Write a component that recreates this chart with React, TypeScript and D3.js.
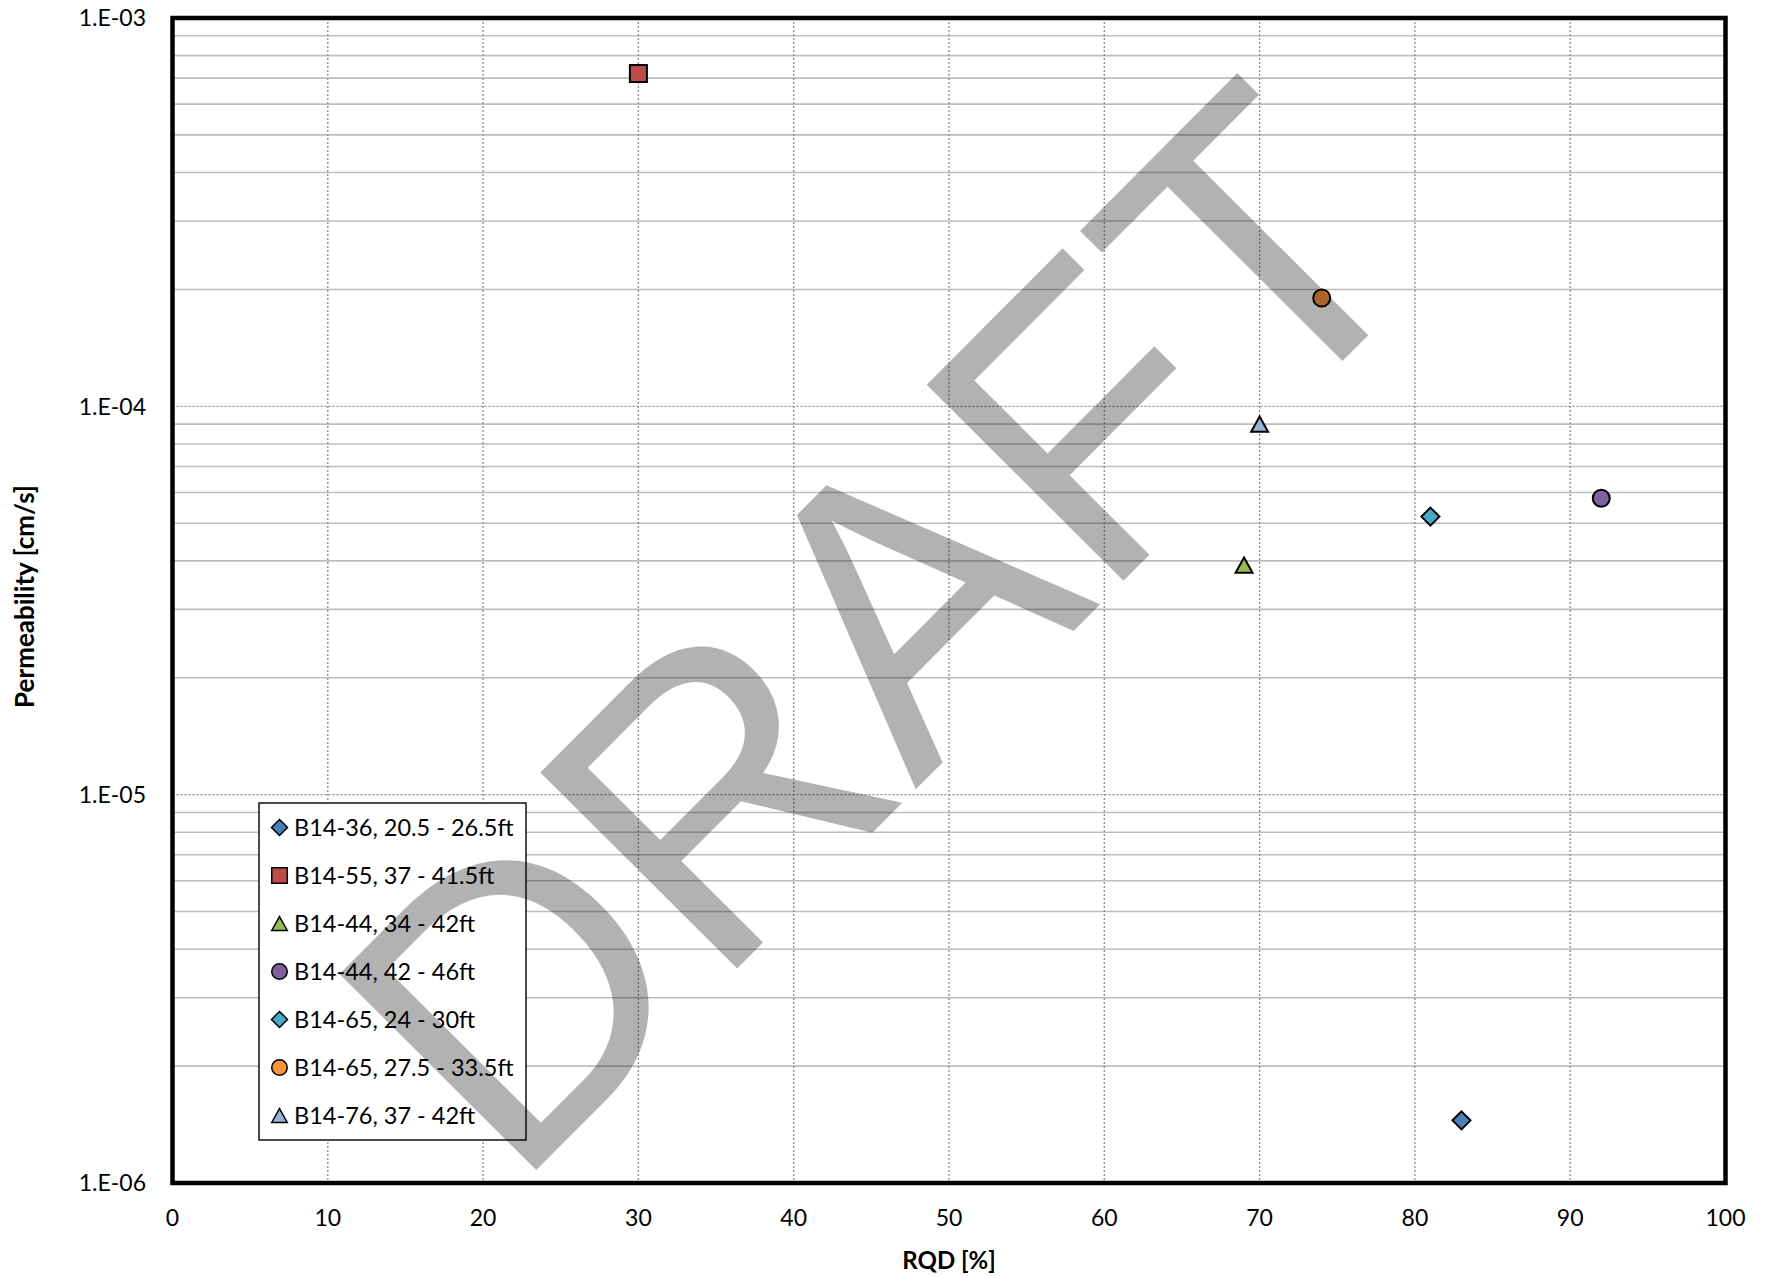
import React from "react";
import * as d3 from "d3";

const seriesNames = [
  "B14-36, 20.5 - 26.5ft",
  "B14-55, 37 - 41.5ft",
  "B14-44, 34 - 42ft",
  "B14-44, 42 - 46ft",
  "B14-65, 24 - 30ft",
  "B14-65, 27.5 - 33.5ft",
  "B14-76, 37 - 42ft",
];
const rqdValues = [83, 30, 69, 92, 81, 74, 70];
const permeabilityValues = [1.45e-6, 7.2e-4, 3.9e-5, 5.8e-5, 5.2e-5, 1.9e-4, 9.0e-5];
const markerShapes = ["diamond", "square", "triangle", "circle", "diamond", "circle", "triangle"];
const markerColors = ["#4A7EBB", "#BE4B48", "#98B954", "#7D60A0", "#46AAC5", "#F69240", "#95B3D7"];

const xTickValues = [0, 10, 20, 30, 40, 50, 60, 70, 80, 90, 100];
const yTickValues = [1e-6, 1e-5, 1e-4, 1e-3];
const yTickLabels = ["1.E-06", "1.E-05", "1.E-04", "1.E-03"];
const xTitle = "RQD [%]";
const yTitle = "Permeability [cm/s]";
const watermarkText = "DRAFT";

const W = 1765;
const H = 1277;
const plot = { left: 172.5, right: 1725.5, top: 18, bottom: 1183 };
const FONT = "Lato, 'Open Sans', sans-serif";

function markerPath(shape: string, cx: number, cy: number, s: number): string {
  const h = s / 2;
  if (shape === "diamond") {
    return `M${cx},${cy - h}L${cx + h},${cy}L${cx},${cy + h}L${cx - h},${cy}Z`;
  }
  if (shape === "square") {
    return `M${cx - h},${cy - h}H${cx + h}V${cy + h}H${cx - h}Z`;
  }
  if (shape === "triangle") {
    const th = s * 0.9;
    return `M${cx},${cy - th / 2}L${cx + h},${cy + th / 2}L${cx - h},${cy + th / 2}Z`;
  }
  const p = d3.path();
  p.arc(cx, cy, h, 0, Math.PI * 2);
  p.closePath();
  return p.toString();
}

export default function App() {
  const x = d3.scaleLinear().domain([0, 100]).range([plot.left, plot.right]);
  const y = d3.scaleLog().domain([1e-6, 1e-3]).range([plot.bottom, plot.top]);

  const minorY: number[] = [];
  for (let e = -6; e < -3; e++) {
    for (let m = 2; m <= 9; m++) minorY.push(m * Math.pow(10, e));
  }
  const majorY = yTickValues.slice(1, -1);
  const vertGrid = xTickValues.slice(1, -1);

  const legend = { x: 259, y: 803, w: 267, h: 337, markerX: 279.5, textX: 294, firstY: 827.5, step: 48 };

  // watermark geometry
  const wmX = 513.5;
  const wmY = 1193;
  const wmAngle = -45.1;

  return (
    <svg
      width={W}
      height={H}
      style={{ position: "absolute", left: 0, top: 0, background: "#fff" }}
      xmlns="http://www.w3.org/2000/svg"
    >
      <rect x={0} y={0} width={W} height={H} fill="#fff" />
      {/* minor horizontal gridlines */}
      {minorY.map((v, i) => (
        <line key={"mn" + i} x1={plot.left} x2={plot.right} y1={y(v)} y2={y(v)} stroke="#bdbdbd" strokeWidth={1.6} />
      ))}
      {/* major horizontal gridlines */}
      {majorY.map((v, i) => (
        <line key={"mj" + i} x1={plot.left} x2={plot.right} y1={y(v)} y2={y(v)} stroke="#8c8c8c" strokeWidth={1.3} strokeDasharray="2,2" />
      ))}
      {/* vertical gridlines */}
      {vertGrid.map((v, i) => (
        <line key={"vg" + i} x1={x(v)} x2={x(v)} y1={plot.top} y2={plot.bottom} stroke="#8c8c8c" strokeWidth={1.3} strokeDasharray="2,2" />
      ))}

      {/* legend */}
      <rect x={legend.x} y={legend.y} width={legend.w} height={legend.h} fill="#fff" stroke="#000" strokeWidth={1.4} />
      {seriesNames.map((name, i) => {
        const cy = legend.firstY + i * legend.step;
        return (
          <g key={"lg" + i}>
            <path d={markerPath(markerShapes[i], legend.markerX, cy, markerShapes[i] === "diamond" ? 16 : 15.5)} fill={markerColors[i]} stroke="#000" strokeWidth={1.5} />
            <text x={legend.textX} y={cy} dy="0.36em" fontFamily={FONT} fontSize={23.5} fill="#000">
              {name}
            </text>
          </g>
        );
      })}

      {/* data markers */}
      {rqdValues.map((v, i) => (
        <path
          key={"pt" + i}
          d={markerPath(markerShapes[i], x(v), y(permeabilityValues[i]), markerShapes[i] === "diamond" ? 18 : 17)}
          fill={markerColors[i]}
          stroke="#000"
          strokeWidth={2}
        />
      ))}

      {/* plot frame */}
      <rect x={plot.left} y={plot.top} width={plot.right - plot.left} height={plot.bottom - plot.top} fill="none" stroke="#000" strokeWidth={4.5} />

      {/* x tick labels */}
      {xTickValues.map((v, i) => (
        <text key={"xt" + i} x={x(v)} y={1218} dy="0.36em" textAnchor="middle" fontFamily={FONT} fontSize={23} fill="#000">
          {String(v)}
        </text>
      ))}
      {/* y tick labels */}
      {yTickValues.map((v, i) => (
        <text key={"yt" + i} x={146} y={y(v)} dy="0.36em" textAnchor="end" fontFamily={FONT} fontSize={23} fill="#000">
          {yTickLabels[i]}
        </text>
      ))}

      {/* axis titles */}
      <text x={(plot.left + plot.right) / 2} y={1260} dy="0.36em" textAnchor="middle" fontFamily={FONT} fontWeight="bold" fontSize={24} fill="#000">
        {xTitle}
      </text>
      <text
        transform={`translate(25,${(plot.top + plot.bottom) / 2 - 4}) rotate(-90)`}
        dy="0.36em"
        textAnchor="middle"
        fontFamily={FONT}
        fontWeight="bold"
        fontSize={26}
        fill="#000"
      >
        {yTitle}
      </text>

      {/* watermark */}
      <text
        transform={`translate(${wmX},${wmY}) rotate(${wmAngle}) scale(1,1.025)`}
        fontFamily="'Liberation Sans', Arial, sans-serif"
        fontSize={394}
        fill="#000"
        fillOpacity={0.3}
      >
        {watermarkText}
      </text>
    </svg>
  );
}
